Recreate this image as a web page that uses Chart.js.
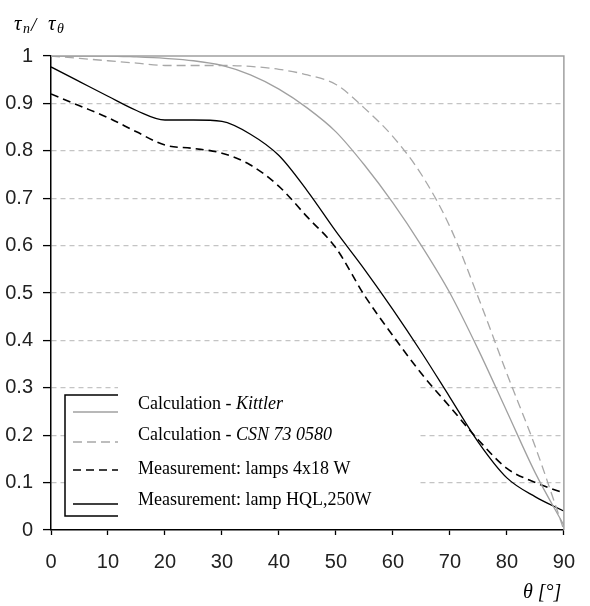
<!DOCTYPE html>
<html>
<head>
<meta charset="utf-8">
<script src="https://cdn.jsdelivr.net/npm/chart.js@4"></script>
<style>
  html, body { margin: 0; padding: 0; background: #fff; }
  #wrap { width: 590px; height: 606px; }
</style>
</head>
<body>
<div id="wrap"><canvas id="chart" width="590" height="606"></canvas></div>
<script>
// angle theta in degrees
const angles = [0, 5, 10, 15, 20, 25, 30, 35, 40, 45, 50, 55, 60, 65, 70, 75, 80, 85, 90];

const kittler = [1.0, 1.0, 1.0, 0.998, 0.995, 0.99, 0.98, 0.96, 0.93, 0.89, 0.84, 0.77, 0.69, 0.60, 0.50, 0.38, 0.25, 0.12, 0.01];
const csn = [1.0, 0.995, 0.99, 0.985, 0.98, 0.98, 0.98, 0.978, 0.972, 0.96, 0.94, 0.89, 0.83, 0.75, 0.64, 0.49, 0.33, 0.175, 0.0];
const lamps4x18 = [0.92, 0.895, 0.87, 0.84, 0.812, 0.805, 0.795, 0.77, 0.725, 0.66, 0.595, 0.495, 0.41, 0.33, 0.26, 0.19, 0.13, 0.10, 0.078];
const lampHQL = [0.977, 0.946, 0.915, 0.885, 0.865, 0.865, 0.862, 0.835, 0.79, 0.715, 0.63, 0.55, 0.465, 0.375, 0.28, 0.185, 0.11, 0.07, 0.04];

const xTicks = [0, 10, 20, 30, 40, 50, 60, 70, 80, 90];
const yTicks = [0, 0.1, 0.2, 0.3, 0.4, 0.5, 0.6, 0.7, 0.8, 0.9, 1];

// legend text: [plain part, italic part]
const legendText = [
  ['Calculation - ', 'Kittler'],
  ['Calculation - ', 'CSN 73 0580'],
  ['Measurement: lamps 4x18 W', ''],
  ['Measurement: lamp HQL,250W', '']
];

const serif = "'Liberation Serif', 'Times New Roman', serif";
const tickFont = "'Liberation Sans Narrow', 'Liberation Sans', Arial, sans-serif";

function pts(vals) {
  return angles.map((a, i) => ({ x: a, y: vals[i] }));
}

const extras = {
  id: 'extras',
  beforeDatasetsDraw(chart) {
    const ctx = chart.ctx;
    // white legend background hides the grid lines
    ctx.save();
    ctx.fillStyle = '#fff';
    ctx.fillRect(65, 395, 352, 123);
    ctx.fillRect(118, 381, 299, 15);
    ctx.restore();
  },
  afterDraw(chart) {
    const ctx = chart.ctx;
    const a = chart.chartArea;
    ctx.save();

    // grey frame on top and right
    ctx.strokeStyle = '#a0a0a0';
    ctx.lineWidth = 1.5;
    ctx.beginPath();
    ctx.moveTo(a.left, a.top);
    ctx.lineTo(a.right, a.top);
    ctx.lineTo(a.right, a.bottom);
    ctx.stroke();

    // legend bracket
    ctx.strokeStyle = '#000';
    ctx.lineWidth = 1.5;
    ctx.beginPath();
    ctx.moveTo(118, 395);
    ctx.lineTo(65, 395);
    ctx.lineTo(65, 516);
    ctx.lineTo(118, 516);
    ctx.stroke();

    // legend entries
    const sampleY = [412, 442, 470, 504];
    const textY = [409, 440, 474, 505];
    chart.data.datasets.forEach((ds, i) => {
      ctx.strokeStyle = ds.borderColor;
      ctx.lineWidth = ds.borderWidth;
      ctx.setLineDash(ds.borderDash || []);
      ctx.beginPath();
      ctx.moveTo(73, sampleY[i]);
      ctx.lineTo(118, sampleY[i]);
      ctx.stroke();
      ctx.setLineDash([]);

      ctx.fillStyle = '#000';
      ctx.textBaseline = 'alphabetic';
      ctx.textAlign = 'left';
      ctx.font = '18px ' + serif;
      const plain = legendText[i][0];
      ctx.fillText(plain, 138, textY[i]);
      const w = ctx.measureText(plain).width;
      if (legendText[i][1]) {
        ctx.font = 'italic 18px ' + serif;
        ctx.fillText(legendText[i][1], 138 + w, textY[i]);
      }
    });

    // y axis title: tau_n / tau_theta
    ctx.fillStyle = '#000';
    ctx.textAlign = 'left';
    ctx.font = 'italic 21px ' + serif;
    ctx.fillText('\u03c4', 14, 30);
    ctx.font = 'italic 14px ' + serif;
    ctx.fillText('n', 23, 33);
    ctx.font = 'italic 19px ' + serif;
    ctx.fillText('/', 31, 31);
    ctx.font = 'italic 21px ' + serif;
    ctx.fillText('\u03c4', 48, 30);
    ctx.font = 'italic 14px ' + serif;
    ctx.fillText('\u03b8', 57, 33);

    // x axis title
    ctx.font = 'italic 20px ' + serif;
    ctx.fillText('\u03b8 [\u00b0]', 523, 598);

    ctx.restore();
  }
};

new Chart(document.getElementById('chart'), {
  type: 'line',
  data: {
    datasets: [
      { label: 'Calculation - Kittler', data: pts(kittler), borderColor: '#a0a0a0', borderWidth: 1.3, borderDash: [] },
      { label: 'Calculation - CSN 73 0580', data: pts(csn), borderColor: '#a8a8a8', borderWidth: 1.3, borderDash: [9, 5] },
      { label: 'Measurement: lamps 4x18 W', data: pts(lamps4x18), borderColor: '#000', borderWidth: 1.6, borderDash: [8, 5] },
      { label: 'Measurement: lamp HQL,250W', data: pts(lampHQL), borderColor: '#000', borderWidth: 1.3, borderDash: [] }
    ]
  },
  options: {
    responsive: false,
    animation: false,
    layout: { padding: { left: 0, right: 22, top: 56, bottom: 0 } },
    elements: {
      point: { radius: 0 },
      line: { cubicInterpolationMode: 'monotone', fill: false }
    },
    plugins: {
      legend: { display: false },
      tooltip: { enabled: false }
    },
    scales: {
      x: {
        type: 'linear',
        min: 0,
        max: 90,
        afterBuildTicks: s => { s.ticks = xTicks.map(v => ({ value: v })); },
        afterFit: s => { s.height = 76; },
        grid: { drawOnChartArea: false, tickLength: 5, tickColor: '#000', tickWidth: 1.3 },
        border: { color: '#000', width: 1.5 },
        ticks: { color: '#222', padding: 15, maxRotation: 0, font: { family: tickFont, size: 20 } }
      },
      y: {
        min: 0,
        max: 1,
        afterBuildTicks: s => { s.ticks = yTicks.map(v => ({ value: v })); },
        afterFit: s => { s.width = 51; },
        grid: {
          color: c => (c.tick && c.tick.value > 0 && c.tick.value < 1) ? '#c4c4c4' : 'rgba(0,0,0,0)',
          lineWidth: 1.2,
          tickLength: 8,
          tickColor: '#000',
          tickWidth: 1.3
        },
        border: { color: '#000', width: 1.5, dash: [5, 4] },
        ticks: {
          color: '#222',
          padding: 10,
          font: { family: tickFont, size: 20 },
          callback: v => String(+v.toFixed(1))
        }
      }
    }
  },
  plugins: [extras]
});
</script>
</body>
</html>
